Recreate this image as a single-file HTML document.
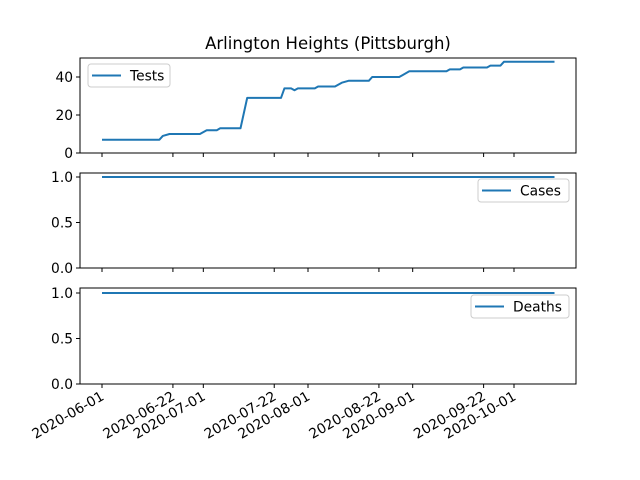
<!DOCTYPE html>
<html><head><meta charset="utf-8"><style>
html,body{margin:0;padding:0;background:#fff;}
svg{display:block;font-family:"DejaVu Sans","Liberation Sans",sans-serif;}
</style></head><body>
<svg id="chart" width="640" height="480">
<text x="328" y="49" font-size="16.5" text-anchor="middle">Arlington Heights (Pittsburgh)</text>
</svg>
<script>
const testDays = [0,17,18,20,29,31,34,35,41,43,53,54,56,57,58,63,64,69,71,73,79,80,88,89,91,102,103,106,107,114,115,118,119,134];
const testVals = [7,7,9,10,10,12,12,13,13,29,29,34,34,33,34,34,35,35,37,38,38,40,40,41,43,43,44,44,45,45,46,46,48,48];
const caseDays = [0,134];
const caseVals = [1,1];
const deathDays = [0,134];
const deathVals = [1,1];
const tickDays = [0,21,30,51,61,82,92,113,122];
const tickLabels = ["2020-06-01","2020-06-22","2020-07-01","2020-07-22","2020-08-01","2020-08-22","2020-09-01","2020-09-22","2020-10-01"];
const topTicks = [0,20,40];
const smallTicks = [0,0.5,1];

const svg = document.getElementById('chart');
const NS = 'http://www.w3.org/2000/svg';
function mk(tag, attrs){const e=document.createElementNS(NS,tag);for(const k in attrs)e.setAttribute(k,attrs[k]);svg.appendChild(e);return e;}
const X0=80,X1=576;
const xs = d => 102 + d*(514-102)/122;

const panels = [
 {name:'tests',top:58,bot:153,days:testDays,vals:testVals,ticks:topTicks,fmt:v=>String(v),label:'Tests',leg:{x:88,y:64,w:82}},
 {name:'cases',top:173,bot:268,days:caseDays,vals:caseVals,ticks:smallTicks,fmt:v=>v.toFixed(1),label:'Cases',leg:{x:478,y:179,w:91}},
 {name:'deaths',top:288,bot:384,days:deathDays,vals:deathVals,ticks:smallTicks,fmt:v=>v.toFixed(1),label:'Deaths',leg:{x:471,y:295,w:98}}
];
panels[0].ys = v => 153 - v*(153-77)/40;
panels[1].ys = v => 268 - v*(268-177);
panels[2].ys = v => 384 - v*(384-293);

panels.forEach((p,pi)=>{
  let r=mk('rect',{x:X0,y:p.top,width:X1-X0,height:p.bot-p.top,fill:'none',stroke:'#000','stroke-width':1});
  
  
  p.ticks.forEach(t=>{
    const y=p.ys(t);
    let l=mk('line',{x1:X0-4,x2:X0,y1:y,y2:y,stroke:'#000','stroke-width':1});
    
    
    let tx=mk('text',{x:X0-7,y:y+5,'font-size':13.8,'text-anchor':'end'});
    tx.textContent=p.fmt(t);
    
    
  });
  tickDays.forEach((d,i)=>{
    const x=xs(d);
    let l=mk('line',{x1:x,x2:x,y1:p.bot,y2:p.bot+4,stroke:'#000','stroke-width':1});
    
    
    if(pi===2){
      let tx=mk('text',{x:0,y:0,'font-size':13.8,'text-anchor':'end',transform:`translate(${x+3},${p.bot+15}) rotate(-30)`});
      tx.textContent=tickLabels[i];
      
      
    }
  });
  const pts=p.days.map((d,i)=>xs(d).toFixed(1)+','+p.ys(p.vals[i]).toFixed(1)).join(' ');
  let pl=mk('polyline',{points:pts,fill:'none',stroke:'#1f77b4','stroke-width':2,'stroke-linejoin':'round'});
  
  
  const L=p.leg;
  let lr=mk('rect',{x:L.x,y:L.y,width:L.w,height:23,rx:3,fill:'#fff','fill-opacity':0.8,stroke:'#ccc','stroke-width':1});
  
  
  let ll=mk('line',{x1:L.x+4,x2:L.x+33,y1:L.y+11.5,y2:L.y+11.5,stroke:'#1f77b4','stroke-width':2});
  
  
  let lt=mk('text',{x:L.x+42,y:L.y+16.5,'font-size':13.8});
  lt.textContent=p.label;
  
  
});
</script>
</body></html>
